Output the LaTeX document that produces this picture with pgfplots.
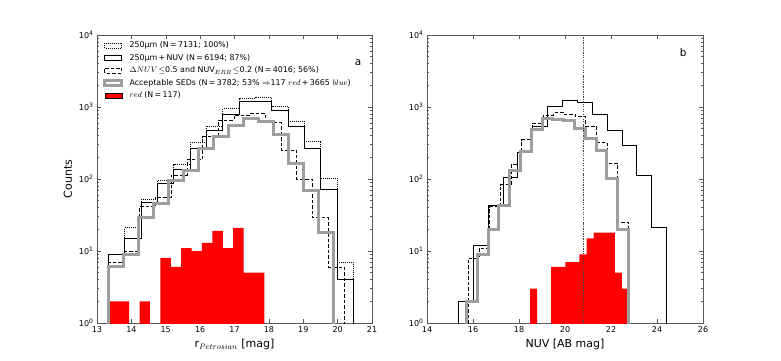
\documentclass[border=0pt]{standalone}
\usepackage{pgfplots}
\pgfplotsset{compat=1.18}
\usepackage{fontspec}
\setmainfont{DejaVu Sans}

\definecolor{hgray}{gray}{0.62}

\begin{document}
\begin{tikzpicture}
\useasboundingbox (0,0) rectangle (781pt,360pt);

% ---------------- panel a ----------------
\begin{axis}[scale only axis, width=275pt, height=288pt,
  at={(97pt,37pt)}, anchor=south west,
  ymode=log, ymin=1, ymax=10000,
  ytick={1,10,100,1000,10000},
  yticklabels={10\textsuperscript{0},10\textsuperscript{1},10\textsuperscript{2},10\textsuperscript{3},10\textsuperscript{4}},
  minor ytick={2,3,4,5,6,7,8,9,20,30,40,50,60,70,80,90,200,300,400,500,600,700,800,900,2000,3000,4000,5000,6000,7000,8000,9000},
  tick align=inside, major tick length=4pt, minor tick length=2pt,
  axis line style={black!65, line width=0.7pt},
  tick style={black!65, line width=0.5pt},
  tick label style={font=\fontsize{8}{9}\selectfont},
  label style={font=\fontsize{11}{12}\selectfont},
  xmin=13, xmax=21,
  xtick={13,14,15,16,17,18,19,20,21},
  xticklabels={13,14,15,16,17,18,19,20,21},
  xlabel={r$_{Petrosian}$ [mag]},
  ylabel={Counts},
  legend image code/.code={\draw[#1] (0pt,-2.5pt) rectangle (17pt,2.5pt);},
  legend style={at={(axis description cs:0,1)}, anchor=north west,
    xshift=6pt, yshift=-5pt, draw=none, fill=none, inner sep=0pt,
    font=\fontsize{7.9}{9.5}\selectfont, row sep=1.9pt, column sep=5.5pt,
    nodes={inner sep=0.8pt, text height=7pt, text depth=2pt}},
  legend cell align=left,
]
\addlegendimage{black, line width=0.8pt, dash pattern=on 0.9pt off 1.1pt}
\addlegendentry{250μm (N\,=\,7131; 100\%)}
\addlegendimage{black, line width=0.8pt}
\addlegendentry{250μm\,+\,NUV (N\,=\,6194; 87\%)}
\addlegendimage{black, line width=0.8pt, dash pattern=on 3.5pt off 2pt}
\addlegendentry{$\Delta NUV\!\leq$0.5 and NUV$_{ERR}\!\leq$0.2 (N\,=\,4016; 56\%)}
\addlegendimage{hgray, line width=3pt}
\addlegendentry{Acceptable SEDs (N\,=\,3782; 53\% $\Rightarrow$117 $red$\,+\,3665 $blue$)}
\addlegendimage{fill=red, draw=none}
\addlegendentry{$red$ (N\,=\,117)}

% red subsample
\addplot[fill=red, draw=none, const plot, forget plot] coordinates {
 (13.330,0.1) (13.330,2) (13.633,2) (13.935,0.1) (14.238,2) (14.541,0.1)
 (14.844,8) (15.146,6) (15.449,11) (15.752,10) (16.054,13) (16.357,19)
 (16.660,11) (16.962,21) (17.265,5) (17.568,5) (17.871,0.1)};
% 250um
\addplot[black, line width=0.8pt, dash pattern=on 0.9pt off 1.1pt, const plot, forget plot] coordinates {
 (13.33,0.1) (13.33,9) (13.81,21) (14.28,52) (14.76,95) (15.23,162) (15.71,318)
 (16.18,545) (16.66,955) (17.13,1300) (17.61,1380) (18.08,1030) (18.56,640)
 (19.03,330) (19.51,102) (19.98,7) (20.46,0.1)};
% 250um + NUV
\addplot[black, line width=0.8pt, const plot, forget plot] coordinates {
 (13.33,0.1) (13.33,9) (13.81,15) (14.28,48) (14.76,87) (15.23,136) (15.71,268)
 (16.18,480) (16.66,800) (17.13,1180) (17.61,1200) (18.08,910) (18.56,545)
 (19.03,265) (19.51,72) (19.98,4) (20.46,0.1)};
% NUV cuts
\addplot[black, line width=0.8pt, dash pattern=on 3.5pt off 2pt, const plot, forget plot] coordinates {
 (13.33,0.1) (13.33,7) (13.79,10) (14.24,41) (14.70,56) (15.16,114) (15.62,187)
 (16.07,387) (16.53,660) (16.99,776) (17.44,815) (17.90,605) (18.36,253)
 (18.81,99) (19.27,29) (19.73,6) (20.19,0.1)};
% acceptable SEDs
\addplot[hgray, line width=3pt, const plot, forget plot] coordinates {
 (13.33,0.1) (13.33,6) (13.77,9) (14.20,29) (14.64,46) (15.07,95) (15.51,133)
 (15.95,266) (16.38,387) (16.82,562) (17.25,700) (17.69,625) (18.13,410)
 (18.56,165) (19.00,70) (19.43,18) (19.87,0.1)};

\node[font=\fontsize{10.5}{12}\selectfont] at (rel axis cs:0.949,0.903) {a};
\end{axis}

% ---------------- panel b ----------------
\begin{axis}[scale only axis, width=276pt, height=288pt,
  at={(427pt,37pt)}, anchor=south west,
  ymode=log, ymin=1, ymax=10000,
  ytick={1,10,100,1000,10000},
  yticklabels={10\textsuperscript{0},10\textsuperscript{1},10\textsuperscript{2},10\textsuperscript{3},10\textsuperscript{4}},
  minor ytick={2,3,4,5,6,7,8,9,20,30,40,50,60,70,80,90,200,300,400,500,600,700,800,900,2000,3000,4000,5000,6000,7000,8000,9000},
  tick align=inside, major tick length=4pt, minor tick length=2pt,
  axis line style={black!65, line width=0.7pt},
  tick style={black!65, line width=0.5pt},
  tick label style={font=\fontsize{8}{9}\selectfont},
  label style={font=\fontsize{11}{12}\selectfont},
  xmin=14, xmax=26,
  xtick={14,16,18,20,22,24,26},
  xticklabels={14,16,18,20,22,24,26},
  xlabel={NUV [AB mag]},
]
\addplot[fill=red, draw=none, const plot] coordinates {
 (18.478,0.1) (18.478,3) (18.785,0.1) (19.093,0.1) (19.400,6) (19.708,6)
 (20.015,7) (20.322,7) (20.630,9) (20.937,15) (21.245,18) (21.552,18)
 (21.859,18) (22.167,5) (22.474,3) (22.782,0.1)};
\addplot[black, line width=0.8pt, const plot] coordinates {
 (15.36,0.1) (15.36,2) (16.01,12) (16.65,43) (17.30,106) (17.95,235) (18.60,545)
 (19.24,1030) (19.89,1250) (20.54,1150) (21.18,790) (21.83,475) (22.48,297)
 (23.12,114) (23.77,21) (24.42,0.1)};
\addplot[black, line width=0.8pt, dash pattern=on 3.5pt off 2pt, const plot] coordinates {
 (15.80,0.1) (15.80,8) (16.26,11) (16.73,41) (17.19,83) (17.66,157) (18.12,350)
 (18.58,590) (19.05,775) (19.51,830) (19.97,780) (20.44,733) (20.90,545)
 (21.37,318) (21.83,165) (22.29,25) (22.76,0.1)};
\addplot[hgray, line width=3pt, const plot] coordinates {
 (15.73,0.1) (15.73,2) (16.19,9) (16.66,20) (17.13,43) (17.60,133) (18.07,240)
 (18.54,490) (19.01,700) (19.47,680) (19.94,645) (20.41,505) (20.88,367)
 (21.35,251) (21.82,102) (22.29,20) (22.75,0.1)};
\addplot[black!75, line width=0.6pt, dash pattern=on 1.6pt off 1.4pt on 0.5pt off 1.4pt]
 coordinates {(20.8,1) (20.8,10000)};

\node[font=\fontsize{10.5}{12}\selectfont] at (rel axis cs:0.928,0.9375) {b};
\end{axis}
\end{tikzpicture}
\end{document}
